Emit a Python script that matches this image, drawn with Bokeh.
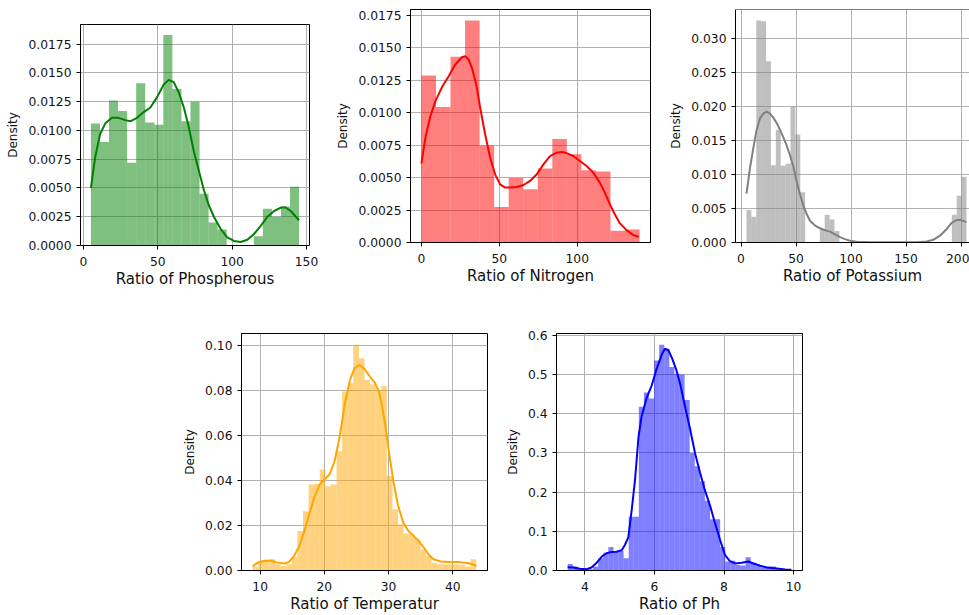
import numpy as np
from bokeh.plotting import figure
from bokeh.layouts import row, column, Spacer
from bokeh.models import Range1d, FixedTicker, PrintfTickFormatter, Span
from bokeh.embed import file_html
from bokeh.resources import INLINE

# ---------------- data ----------------
# Phosphorous: 23 bins between 5 and 145
phos_min, phos_max = 5, 145
phos_density = [0.0106, 0.0090, 0.0126, 0.0117, 0.0072, 0.0141, 0.0107, 0.0105,
                0.0183, 0.0136, 0.0108, 0.0125, 0.0045, 0.0020, 0.0014, 0.0, 0.0,
                0.0, 0.0008, 0.0032, 0.0025, 0.0034, 0.0051]
phos_kde_x = [5, 7.9, 11.2, 14.6, 19.1, 23.6, 28.1, 31.5, 36, 40.5, 45, 49.5, 54,
              57.3, 60.7, 64.1, 67.5, 70.8, 74.2, 77.6, 81, 84.3, 87.7, 92.2, 96.7,
              101.2, 105.7, 110.2, 114.7, 119.2, 123.7, 128.2, 132.7, 136, 139.4,
              142.8, 145]
phos_kde_y = [0.0050, 0.0077, 0.0097, 0.0106, 0.0111, 0.0111, 0.0109, 0.0108,
              0.0111, 0.0116, 0.0120, 0.0129, 0.0140, 0.0144, 0.0142, 0.0133,
              0.0120, 0.0103, 0.0082, 0.0065, 0.0048, 0.0035, 0.0025, 0.00145,
              0.0007, 0.0004, 0.0003, 0.0005, 0.0010, 0.0017, 0.0025, 0.0030,
              0.0033, 0.0033, 0.0030, 0.0025, 0.0022]

# Nitrogen: 15 bins between 0 and 140
nit_min, nit_max = 0, 140
nit_density = [0.01286, 0.01043, 0.0143, 0.01709, 0.00748, 0.00274, 0.00497,
               0.0041, 0.00569, 0.00797, 0.00679, 0.00556, 0.00546, 0.0009, 0.0010]
nit_kde_x = [0, 2.6, 5.8, 9, 13.2, 17.5, 21.7, 26, 28.1, 30.3, 32.4, 35.2, 37.7,
             40.9, 44.1, 47.3, 50.5, 53.7, 56.9, 61.2, 65.5, 69.7, 74, 78.3, 82.5,
             86.8, 90, 93.2, 97.4, 101.7, 106, 110.3, 114.5, 117.7, 120.9, 124.1,
             127.3, 131.6, 135.8, 139.4]
nit_kde_y = [0.00607, 0.0081, 0.00974, 0.01089, 0.01197, 0.01281, 0.01371,
             0.01427, 0.01435, 0.01409, 0.01345, 0.01217, 0.01038, 0.00833,
             0.00653, 0.00525, 0.00448, 0.00423, 0.00423, 0.00428, 0.00443,
             0.00474, 0.00525, 0.00602, 0.00666, 0.00692, 0.00697, 0.00689,
             0.00666, 0.00628, 0.00589, 0.00538, 0.00461, 0.00384, 0.00295,
             0.00218, 0.00149, 0.00095, 0.00059, 0.00044]

# Potassium: 45 bins between 5 and 205
pot_min, pot_max = 5, 205
pot_density = ([0.0048, 0.0038, 0.0327, 0.0326, 0.0267, 0.0114, 0.0166, 0.0113,
                0.0116, 0.0200, 0.0159, 0.0074, 0.0, 0.0, 0.0, 0.0019, 0.0041,
                0.0034, 0.0017] + [0.0] * 23 + [0.0041, 0.0069, 0.0097])
pot_kde_x = [5, 8.2, 11.2, 14.2, 17.3, 20.3, 23.3, 26.4, 29.4, 32.4, 35.5, 38.5,
             41.5, 44.5, 47.6, 50.6, 53.6, 56.7, 59.7, 62.7, 67.3, 71.8, 76.4,
             80.9, 85.5, 90, 94.5, 99.1, 105, 117, 160, 168.8, 174.8, 180.9, 187,
             191.5, 196, 200, 205]
pot_kde_y = [0.0072, 0.0110, 0.0139, 0.0166, 0.0183, 0.0190, 0.0193, 0.0190,
             0.0184, 0.0176, 0.0166, 0.0155, 0.0143, 0.0129, 0.0112, 0.0090,
             0.0071, 0.0054, 0.0042, 0.0032, 0.0025, 0.0021, 0.0018, 0.0016,
             0.0012, 0.0008, 0.0005, 0.00025, 0.0001, 0.00003, 0.00003, 0.00015,
             0.0004, 0.0010, 0.0020, 0.0029, 0.0033, 0.0033, 0.0030]

# Temperature: 40 bins between 8.83 and 43.68
temp_min, temp_max = 8.83, 43.68
temp_density = [0.0018, 0.0043, 0.0047, 0.0050, 0.0028, 0.0020, 0.0028, 0.0060,
                0.0176, 0.0264, 0.0383, 0.0385, 0.0449, 0.0375, 0.0383, 0.0530,
                0.0796, 0.0833, 0.1004, 0.0944, 0.0848, 0.0829, 0.0804, 0.0821,
                0.0420, 0.0272, 0.0205, 0.0165, 0.0161, 0.0139, 0.0095, 0.0065,
                0.0035, 0.0028, 0.0028, 0.0028, 0.0028, 0.0024, 0.0018, 0.0050]
temp_kde_x = [8.83, 9.58, 10.6, 11.7, 12.7, 13.8, 14.5, 15.3, 16.1, 16.9, 17.7,
              18.5, 19.3, 20.0, 20.8, 21.6, 22.4, 23.2, 24.0, 24.7, 25.5, 26.3,
              27.1, 27.9, 28.5, 29.0, 29.6, 30.1, 30.8, 31.5, 32.3, 33.1, 33.9,
              34.7, 35.5, 36.2, 37.0, 38.1, 39.4, 40.9, 42.5, 43.68]
temp_kde_y = [0.0018, 0.0035, 0.0043, 0.0043, 0.0035, 0.0031, 0.0038, 0.0065,
              0.0109, 0.0176, 0.0257, 0.0331, 0.0383, 0.0405, 0.0427, 0.0486,
              0.0597, 0.0744, 0.0848, 0.0900, 0.0914, 0.0895, 0.0863, 0.0833,
              0.0796, 0.0730, 0.0626, 0.0520, 0.0390, 0.0287, 0.0213, 0.0176,
              0.0154, 0.0131, 0.0102, 0.0072, 0.0050, 0.0040, 0.0038, 0.0038,
              0.0032, 0.0021]

# pH: 44 bins between 3.505 and 9.935
ph_min, ph_max = 3.505, 9.935
ph_density = [0.0168, 0.010, 0.006, 0.0034, 0.0034, 0.010, 0.031, 0.045, 0.060,
              0.047, 0.050, 0.031, 0.137, 0.137, 0.418, 0.454, 0.439, 0.536, 0.576,
              0.566, 0.519, 0.502, 0.500, 0.435, 0.300, 0.266, 0.228, 0.178, 0.131,
              0.131, 0.060, 0.023, 0.025, 0.014, 0.013, 0.034, 0.020, 0.012,
              0.0076, 0.010, 0.010, 0.006, 0.004, 0.0034]
ph_kde_x = [3.505, 3.66, 3.86, 4.05, 4.19, 4.34, 4.48, 4.62, 4.77, 4.91, 5.06,
            5.15, 5.25, 5.34, 5.44, 5.54, 5.63, 5.78, 5.92, 6.06, 6.21, 6.30,
            6.40, 6.50, 6.62, 6.74, 6.88, 7.02, 7.17, 7.31, 7.45, 7.60, 7.74,
            7.89, 8.03, 8.17, 8.32, 8.51, 8.70, 8.85, 9.04, 9.23, 9.52, 9.76,
            9.935]
ph_kde_y = [0.0084, 0.0076, 0.0042, 0.0034, 0.0076, 0.020, 0.035, 0.044, 0.047,
            0.048, 0.052, 0.065, 0.085, 0.150, 0.230, 0.340, 0.393, 0.442, 0.472,
            0.514, 0.551, 0.566, 0.562, 0.543, 0.514, 0.476, 0.418, 0.363, 0.298,
            0.250, 0.205, 0.165, 0.121, 0.077, 0.039, 0.024, 0.018, 0.020, 0.023,
            0.018, 0.012, 0.0076, 0.005, 0.0025, 0.0017]

FONT = "DejaVu Sans"


def panel(width, height, bl, br, bt, bb, xmin, xmax, ymax, xticks, yticks,
          yfmt, xlabel, clip_right=None):
    span = xmax - xmin
    x0, x1 = xmin - 0.05 * span, xmax + 0.05 * span
    if clip_right is not None:
        x1 = x0 + (x1 - x0) * clip_right
    p = figure(width=width, height=height,
               x_range=Range1d(x0, x1), y_range=Range1d(0, ymax * 1.05),
               output_backend="svg", toolbar_location=None,
               min_border_left=bl, min_border_right=br,
               min_border_top=bt, min_border_bottom=bb)
    p.background_fill_color = "white"
    p.border_fill_color = "white"
    p.outline_line_color = "black" if clip_right is None else None
    p.outline_line_width = 1
    p.xaxis.ticker = FixedTicker(ticks=xticks)
    p.yaxis.ticker = FixedTicker(ticks=yticks)
    p.yaxis.formatter = PrintfTickFormatter(format=yfmt)
    for ax in (p.xaxis[0], p.yaxis[0]):
        ax.major_label_text_font = FONT
        ax.major_label_text_font_size = "12.3px"
        ax.major_label_text_color = "#111111"
        ax.axis_label_text_font = FONT
        ax.axis_label_text_font_style = "normal"
        ax.axis_label_text_color = "#111111"
        ax.axis_line_color = "black"
        ax.axis_line_width = 1
        ax.major_tick_line_color = "black"
        ax.major_tick_line_width = 1
        ax.major_tick_out = 4
        ax.major_tick_in = 0
        ax.minor_tick_line_color = None
    p.xaxis.axis_label = xlabel
    p.xaxis.axis_label_text_font_size = "15px"
    p.xaxis.major_label_standoff = 7
    p.xaxis.axis_label_standoff = 1
    p.yaxis.axis_label = "Density"
    p.yaxis.axis_label_text_font_size = "12px"
    p.yaxis.major_label_standoff = 5
    p.yaxis.axis_label_standoff = 5
    p.grid.grid_line_color = "#b0b0b0"
    p.grid.grid_line_width = 1
    if clip_right is not None:
        p.add_layout(Span(location=ymax * 1.05, dimension="width",
                          line_color="black", line_width=1))
    return p


def draw(p, lo, hi, density, kx, ky, color):
    edges = np.linspace(lo, hi, len(density) + 1)
    p.quad(left=edges[:-1], right=edges[1:], bottom=0, top=density,
           fill_color=color, fill_alpha=0.5, line_color=None)
    p.line(kx, ky, line_color=color, line_width=2)


# ---------------- top row ----------------
p1 = panel(330, 285, 80, 21, 9, 55, phos_min, phos_max, max(phos_density),
           [0, 50, 100, 150],
           [0, 0.0025, 0.005, 0.0075, 0.01, 0.0125, 0.015, 0.0175],
           "%.4f", "Ratio of Phospherous")
draw(p1, phos_min, phos_max, phos_density, phos_kde_x, phos_kde_y, "#008000")

p2 = panel(330, 300, 80, 10, 9, 58, nit_min, nit_max, max(nit_density),
           [0, 50, 100],
           [0, 0.0025, 0.005, 0.0075, 0.01, 0.0125, 0.015, 0.0175],
           "%.4f", "Ratio of Nitrogen")
draw(p2, nit_min, nit_max, nit_density, nit_kde_x, nit_kde_y, "#ff0000")

p3 = panel(309, 300, 75, 0, 9, 58, pot_min, pot_max, max(pot_density),
           [0, 50, 100, 150, 200],
           [0, 0.005, 0.01, 0.015, 0.02, 0.025, 0.03],
           "%.3f", "Ratio of Potassium", clip_right=234 / 242)
draw(p3, pot_min, pot_max, pot_density, pot_kde_x, pot_kde_y, "#808080")

# ---------------- bottom row ----------------
p4 = panel(330, 315, 71, 13, 33, 44, temp_min, temp_max, max(temp_density),
           [10, 20, 30, 40], [0, 0.02, 0.04, 0.06, 0.08, 0.1],
           "%.2f", "Ratio of Temperatur")
draw(p4, temp_min, temp_max, temp_density, temp_kde_x, temp_kde_y, "#ffa500")

p5 = panel(322, 315, 56, 20, 33, 44, ph_min, ph_max, max(ph_density),
           [4, 6, 8, 10], [0, 0.1, 0.2, 0.3, 0.4, 0.5, 0.6],
           "%.1f", "Ratio of Ph")
draw(p5, ph_min, ph_max, ph_density, ph_kde_x, ph_kde_y, "#0000ff")

layout = column(row(column(Spacer(width=330, height=15), p1), p2, p3),
                row(Spacer(width=170, height=315), p4, p5))

open("out.html", "w").write(file_html(layout, INLINE))
